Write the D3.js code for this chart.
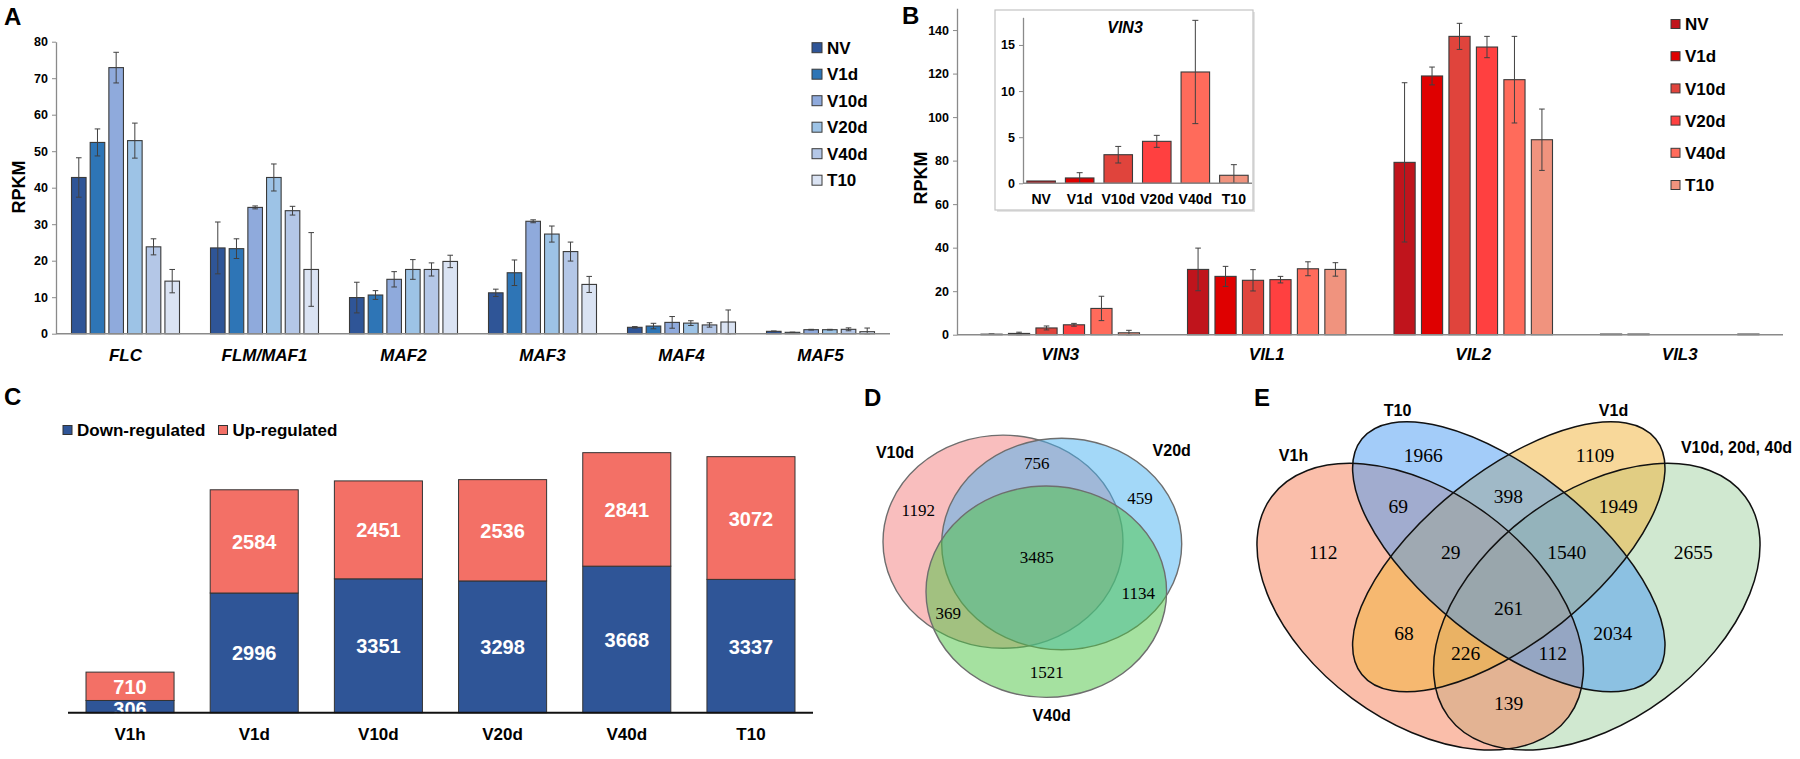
<!DOCTYPE html>
<html><head><meta charset="utf-8">
<script src="https://cdn.jsdelivr.net/npm/d3@7"></script>
<style>
body{margin:0;background:#fff}
svg{display:block}
text{font-family:"Liberation Sans",Arial,sans-serif}
text.serif{font-family:"Liberation Serif","Times New Roman",serif}
</style>
</head><body>
<svg id="fig" width="1800" height="759"></svg>
<script>
// ---------------- DATA ----------------
const samples = ["NV", "V1d", "V10d", "V20d", "V40d", "T10"];

// Panel A: FLC clade genes (RPKM, mean and error)
const genesA = ["FLC", "FLM/MAF1", "MAF2", "MAF3", "MAF4", "MAF5"];
const flc     = [42.8, 52.4, 72.9, 52.9, 23.8, 14.4];
const flcErr  = [5.4, 3.7, 4.2, 4.8, 2.2, 3.2];
const flm     = [23.5, 23.3, 34.6, 42.8, 33.7, 17.6];
const flmErr  = [7.1, 2.7, 0.4, 3.7, 1.2, 10.1];
const maf2    = [9.9, 10.6, 14.9, 17.6, 17.6, 19.8];
const maf2Err = [4.2, 1.2, 2.1, 2.7, 1.8, 1.7];
const maf3    = [11.2, 16.7, 30.8, 27.3, 22.5, 13.5];
const maf3Err = [1.0, 3.5, 0.4, 2.2, 2.6, 2.2];
const maf4    = [1.75, 2.1, 3.1, 2.9, 2.4, 3.2];
const maf4Err = [0.2, 0.75, 1.6, 0.65, 0.6, 3.3];
const maf5    = [0.65, 0.38, 1.1, 1.1, 1.2, 0.55];
const maf5Err = [0.1, 0.05, 0.1, 0.1, 0.4, 1.0];
const ticksA  = [0, 10, 20, 30, 40, 50, 60, 70, 80];

// Panel B: VIN3 / VIL genes
const genesB  = ["VIN3", "VIL1", "VIL2", "VIL3"];
const vin3    = [0.25, 0.58, 3.1, 4.55, 12.07, 0.87];
const vin3Err = [0.05, 0.57, 0.9, 0.65, 5.6, 1.15];
const vil1    = [30.0, 26.8, 25.0, 25.3, 30.3, 30.0];
const vil1Err = [9.8, 4.6, 4.9, 1.5, 3.2, 3.1];
const vil2    = [79.2, 118.9, 137.1, 132.2, 117.2, 89.6];
const vil2Err = [36.6, 4.1, 6.0, 4.9, 19.9, 14.1];
const vil3    = [0.3, 0.3, 0, 0, 0, 0.3];
const vil3Err = [0, 0, 0, 0, 0, 0];
const ticksB  = [0, 20, 40, 60, 80, 100, 120, 140];
const ticksInset = [0, 5, 10, 15];

// Panel C: DEG counts
const timepointsC = ["V1h", "V1d", "V10d", "V20d", "V40d", "T10"];
const downReg = [306, 2996, 3351, 3298, 3668, 3337];
const upReg   = [710, 2584, 2451, 2536, 2841, 3072];
const seriesC = ["Down-regulated", "Up-regulated"];

// Panel D: 3-set Venn
const setsD = ["V10d", "V20d", "V40d"];
const countsD = [1192, 459, 1521, 756, 369, 1134, 3485];

// Panel E: 4-set Venn
const setsE = ["V1h", "T10", "V1d", "V10d, 20d, 40d"];
const countsE = [112, 1966, 1109, 2655, 69, 68, 139, 398, 2034, 1949, 29, 226, 112, 1540, 261];

// ---------------- LAYOUT / STYLE ----------------
const blues = ["#2F5597", "#2E75B6", "#8FAADC", "#9DC3E6", "#B4C7E7", "#DAE3F3"];
const reds  = ["#C0141C", "#DF0000", "#E0443C", "#FF4040", "#FF6B5B", "#F0937E"];
const colC  = ["#2F5597", "#F37066"];
const svg = d3.select("#fig");
const axisGray = "#8a8a8a";
const errCol = "#404040";

function panelLetter(t, x, y) {
  svg.append("text").attr("x", x).attr("y", y).text(t)
    .attr("font-size", 24).attr("font-weight", "bold").attr("fill", "#000");
}

function styleAxis(g, fs) {
  g.select(".domain").attr("stroke", axisGray).attr("stroke-width", 1.3);
  g.selectAll(".tick line").attr("stroke", axisGray);
  g.selectAll(".tick text").attr("font-size", fs).attr("font-weight", "bold").attr("fill", "#000");
}

function groupedBars(opts) {
  const {genes, vals, errs, colors, x0, y, groupPad, innerPad, cap} = opts;
  const x1 = d3.scaleBand().domain(samples)
    .range([groupPad, x0.bandwidth() - groupPad]).paddingInner(innerPad);
  const g = svg.append("g");
  genes.forEach((gene, gi) => {
    const gg = g.append("g").attr("transform", `translate(${x0(gene)},0)`);
    samples.forEach((s, si) => {
      const v = vals[gi][si], e = errs[gi][si];
      const bx = x1(s), bw = x1.bandwidth();
      gg.append("rect").attr("x", bx).attr("y", y(v)).attr("width", bw)
        .attr("height", Math.max(0, y(0) - y(v)))
        .attr("fill", colors[si]).attr("stroke", "#3a3a3a").attr("stroke-width", 1.1);
      if (e > 0.02) {
        const cx = bx + bw / 2;
        gg.append("line").attr("x1", cx).attr("x2", cx)
          .attr("y1", y(v + e)).attr("y2", y(Math.max(0, v - e)))
          .attr("stroke", errCol).attr("stroke-width", 1);
        [v + e, Math.max(0, v - e)].forEach(t => {
          gg.append("line").attr("x1", cx - cap).attr("x2", cx + cap)
            .attr("y1", y(t)).attr("y2", y(t)).attr("stroke", errCol).attr("stroke-width", 1);
        });
      }
    });
  });
}

function legend(x, y0, step, colors, labels, sq, fs) {
  labels.forEach((l, i) => {
    const y = y0 + i * step;
    svg.append("rect").attr("x", x).attr("y", y - sq / 2).attr("width", sq).attr("height", sq)
      .attr("fill", colors[i]).attr("stroke", "#3a3a3a").attr("stroke-width", 1);
    svg.append("text").attr("x", x + sq + 5).attr("y", y + fs * 0.36).text(l)
      .attr("font-size", fs).attr("font-weight", "bold");
  });
}

// ---------------- PANEL A ----------------
panelLetter("A", 4, 25);
const xA = d3.scaleBand().domain(genesA).range([56, 890]);
const yA = d3.scaleLinear().domain([0, 80]).range([333.7, 41.7]);
const gAy = svg.append("g").attr("transform", "translate(56,0)")
  .call(d3.axisLeft(yA).tickValues(ticksA).tickSize(4).tickSizeOuter(0).tickPadding(4));
styleAxis(gAy, 12.5);
groupedBars({genes: genesA, vals: [flc, flm, maf2, maf3, maf4, maf5],
  errs: [flcErr, flmErr, maf2Err, maf3Err, maf4Err, maf5Err],
  colors: blues, x0: xA, y: yA, groupPad: 15.5, innerPad: 0.22, cap: 2.8});
svg.append("line").attr("x1", 56).attr("x2", 890).attr("y1", yA(0)).attr("y2", yA(0))
  .attr("stroke", axisGray).attr("stroke-width", 1.5);
genesA.forEach(gn => svg.append("text").attr("x", xA(gn) + xA.bandwidth() / 2).attr("y", 361)
  .attr("text-anchor", "middle").attr("font-size", 17).attr("font-weight", "bold")
  .attr("font-style", "italic").text(gn));
svg.append("text").attr("transform", "translate(25,187) rotate(-90)").attr("text-anchor", "middle")
  .attr("font-size", 18).attr("font-weight", "bold").text("RPKM");
legend(812, 47.7, 26.5, blues, samples, 10, 17);

// ---------------- PANEL B ----------------
panelLetter("B", 902, 24);
const xB = d3.scaleBand().domain(genesB).range([957, 1783]);
const yB = d3.scaleLinear().domain([0, 150]).range([334.7, 8.3]);
const gBy = svg.append("g").attr("transform", "translate(957,0)")
  .call(d3.axisLeft(yB).tickValues(ticksB).tickSize(4).tickSizeOuter(0).tickPadding(4));
styleAxis(gBy, 12.5);
groupedBars({genes: genesB, vals: [vin3, vil1, vil2, vil3], errs: [vin3Err, vil1Err, vil2Err, vil3Err],
  colors: reds, x0: xB, y: yB, groupPad: 24, innerPad: 0.23, cap: 2.8});
svg.append("line").attr("x1", 957).attr("x2", 1783).attr("y1", yB(0)).attr("y2", yB(0))
  .attr("stroke", axisGray).attr("stroke-width", 1.5);
genesB.forEach(gn => svg.append("text").attr("x", xB(gn) + xB.bandwidth() / 2).attr("y", 360)
  .attr("text-anchor", "middle").attr("font-size", 17).attr("font-weight", "bold")
  .attr("font-style", "italic").text(gn));
svg.append("text").attr("transform", "translate(927,178) rotate(-90)").attr("text-anchor", "middle")
  .attr("font-size", 18).attr("font-weight", "bold").text("RPKM");
legend(1671, 24, 32.2, reds, samples, 9, 17);

// inset
svg.append("rect").attr("x", 997).attr("y", 12).attr("width", 258).attr("height", 200).attr("fill", "#e4e4e4");
svg.append("rect").attr("x", 995).attr("y", 10).attr("width", 258).attr("height", 200)
  .attr("fill", "#fff").attr("stroke", "#c4c4c4").attr("stroke-width", 1.2);
const xI = d3.scaleBand().domain(samples).range([1023, 1252]).paddingInner(0.26).paddingOuter(0.1);
const yI = d3.scaleLinear().domain([0, 18]).range([183.3, 17.3]);
const gIy = svg.append("g").attr("transform", "translate(1023,0)")
  .call(d3.axisLeft(yI).tickValues(ticksInset).tickSize(4).tickSizeOuter(0).tickPadding(4));
styleAxis(gIy, 12.5);
samples.forEach((s, i) => {
  const v = vin3[i], e = vin3Err[i], bx = xI(s), bw = xI.bandwidth(), cx = bx + bw / 2;
  svg.append("rect").attr("x", bx).attr("y", yI(v)).attr("width", bw).attr("height", yI(0) - yI(v))
    .attr("fill", reds[i]).attr("stroke", "#3a3a3a").attr("stroke-width", 1.1);
  if (e > 0.1) {
    svg.append("line").attr("x1", cx).attr("x2", cx).attr("y1", yI(v + e)).attr("y2", yI(Math.max(0, v - e)))
      .attr("stroke", errCol);
    [v + e, Math.max(0, v - e)].forEach(t => svg.append("line").attr("x1", cx - 3).attr("x2", cx + 3)
      .attr("y1", yI(t)).attr("y2", yI(t)).attr("stroke", errCol));
  }
  svg.append("text").attr("x", cx).attr("y", 204).attr("text-anchor", "middle")
    .attr("font-size", 14).attr("font-weight", "bold").text(s);
});
svg.append("line").attr("x1", 1023).attr("x2", 1252).attr("y1", yI(0)).attr("y2", yI(0))
  .attr("stroke", axisGray).attr("stroke-width", 1.5);
svg.append("text").attr("x", 1125).attr("y", 33).attr("text-anchor", "middle").attr("font-size", 16)
  .attr("font-weight", "bold").attr("font-style", "italic").text("VIN3");

// ---------------- PANEL C ----------------
panelLetter("C", 4, 405);
const xC = d3.scaleBand().domain(timepointsC).range([68, 813]).paddingInner(0.291).paddingOuter(0.145);
const yC = d3.scaleLinear().domain([0, 7000]).range([712.7, 433.05]);
timepointsC.forEach((t, i) => {
  const d = downReg[i], u = upReg[i], bx = xC(t), bw = xC.bandwidth();
  svg.append("rect").attr("x", bx).attr("y", yC(d)).attr("width", bw).attr("height", yC(0) - yC(d))
    .attr("fill", colC[0]).attr("stroke", "#333").attr("stroke-width", 1);
  svg.append("rect").attr("x", bx).attr("y", yC(d + u)).attr("width", bw).attr("height", yC(d) - yC(d + u))
    .attr("fill", colC[1]).attr("stroke", "#333").attr("stroke-width", 1);
  const dy = i === 0 ? 9 : 7.5;
  svg.append("text").attr("x", bx + bw / 2).attr("y", (yC(0) + yC(d)) / 2 + dy).attr("text-anchor", "middle")
    .attr("font-size", 20).attr("font-weight", "bold").attr("fill", "#fff").text(d);
  svg.append("text").attr("x", bx + bw / 2).attr("y", (yC(d) + yC(d + u)) / 2 + 7.5).attr("text-anchor", "middle")
    .attr("font-size", 20).attr("font-weight", "bold").attr("fill", "#fff").text(u);
  svg.append("text").attr("x", bx + bw / 2).attr("y", 740).attr("text-anchor", "middle")
    .attr("font-size", 17).attr("font-weight", "bold").text(t);
});
svg.append("line").attr("x1", 68).attr("x2", 813).attr("y1", yC(0)).attr("y2", yC(0))
  .attr("stroke", "#111").attr("stroke-width", 2);
// legend C
[[63, 0], [218.5, 1]].forEach(([x, i]) => {
  svg.append("rect").attr("x", x).attr("y", 425.5).attr("width", 9).attr("height", 9)
    .attr("fill", colC[i]).attr("stroke", "#333").attr("stroke-width", 1);
  svg.append("text").attr("x", x + 14).attr("y", 436).attr("font-size", 17).attr("font-weight", "bold").text(seriesC[i]);
});

// ---------------- PANEL D ----------------
panelLetter("D", 864, 406);
const ellD = [
  {cx: 1003, cy: 541.7, rx: 120, ry: 106.6, fill: "rgba(243,125,125,0.5)"},
  {cx: 1061.7, cy: 544, rx: 120, ry: 105.8, fill: "rgba(71,177,241,0.5)"},
  {cx: 1046.3, cy: 591.7, rx: 120.3, ry: 105.7, fill: "rgba(75,195,65,0.5)"}
];
ellD.forEach(e => svg.append("ellipse").attr("cx", e.cx).attr("cy", e.cy).attr("rx", e.rx).attr("ry", e.ry)
  .attr("fill", e.fill).attr("stroke", "#6e6e6e").attr("stroke-width", 1.4));
const labD = [[895, 451.7], [1171.7, 450], [1051.7, 715]];
setsD.forEach((s, i) => svg.append("text").attr("x", labD[i][0]).attr("y", labD[i][1] + 6)
  .attr("text-anchor", "middle").attr("font-size", 16).attr("font-weight", "bold").text(s));
const posD = [[918.3, 510], [1140, 497.7], [1046.7, 671.7], [1036.7, 462.7], [948.3, 613.3], [1138.3, 593.3], [1036.7, 556.7]];
countsD.forEach((c, i) => svg.append("text").attr("class", "serif").attr("x", posD[i][0]).attr("y", posD[i][1] + 6)
  .attr("text-anchor", "middle").attr("font-size", 17).text(c));

// ---------------- PANEL E ----------------
panelLetter("E", 1254, 406);
const ellE = [ // drawn in this order
  {cx: 1596.8, cy: 606.7, rx: 184.8, ry: 114.2, rot: -36.6, fill: "rgba(161,209,161,0.5)"},
  {cx: 1420.2, cy: 606.7, rx: 184.8, ry: 114.2, rot: 36.6, fill: "rgba(245,125,85,0.5)"},
  {cx: 1508.8, cy: 556.7, rx: 188.3, ry: 84.7, rot: -38.7, fill: "rgba(241,177,53,0.5)"},
  {cx: 1508.8, cy: 556.7, rx: 188.3, ry: 84.7, rot: 38.7, fill: "rgba(71,153,243,0.5)"}
];
ellE.forEach(e => svg.append("ellipse").attr("cx", e.cx).attr("cy", e.cy).attr("rx", e.rx).attr("ry", e.ry)
  .attr("transform", `rotate(${e.rot},${e.cx},${e.cy})`).attr("fill", e.fill));
ellE.forEach(e => svg.append("ellipse").attr("cx", e.cx).attr("cy", e.cy).attr("rx", e.rx).attr("ry", e.ry)
  .attr("transform", `rotate(${e.rot},${e.cx},${e.cy})`).attr("fill", "none")
  .attr("stroke", "#111").attr("stroke-width", 1.5));
const labE = [[1293.5, 455], [1397.5, 410], [1613.5, 410], [1736.5, 446.7]];
setsE.forEach((s, i) => svg.append("text").attr("x", labE[i][0]).attr("y", labE[i][1] + 6)
  .attr("text-anchor", "middle").attr("font-size", 16).attr("font-weight", "bold").text(s));
const posE = [[1323.3, 552.3], [1423.3, 455.7], [1595, 455.7], [1693.3, 552.3], [1398.3, 506.7],
  [1404, 633.3], [1508.7, 703.3], [1508.3, 496.7], [1612.7, 633.3], [1618.3, 506.7],
  [1450.7, 552.3], [1465.7, 653.3], [1552.7, 653.3], [1566.7, 552.3], [1508.7, 608.3]];
countsE.forEach((c, i) => svg.append("text").attr("class", "serif").attr("x", posE[i][0]).attr("y", posE[i][1] + 6.5)
  .attr("text-anchor", "middle").attr("font-size", 19.5).text(c));
</script>
</body></html>
